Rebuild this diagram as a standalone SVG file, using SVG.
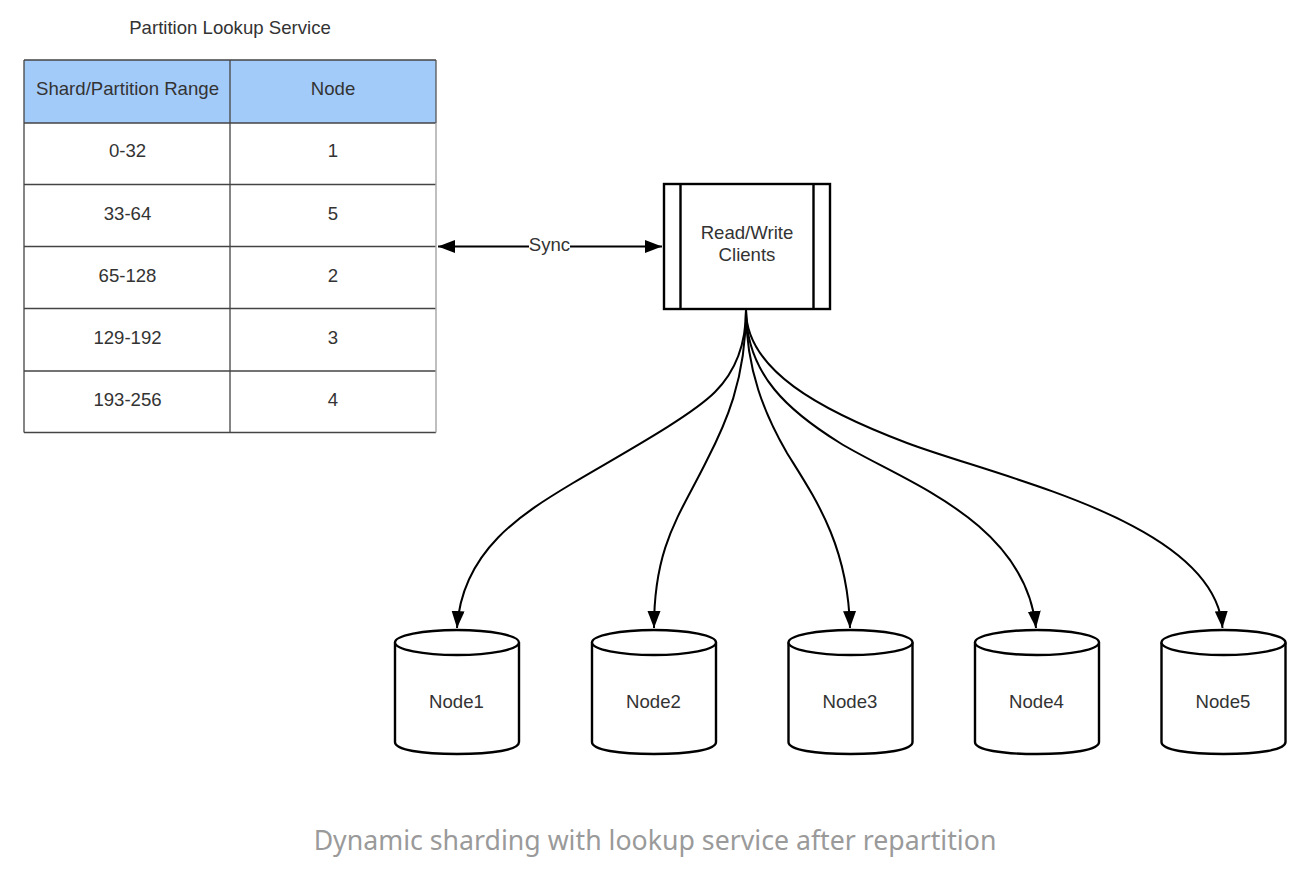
<svg xmlns="http://www.w3.org/2000/svg" width="1304" height="876" viewBox="0 0 1304 876">
<style>
text{font-family:"Liberation Sans",Arial,sans-serif;font-size:18.6px;fill:#333;text-anchor:middle}
.cap{font-family:"Noto Sans",sans-serif;font-size:26.7px;fill:#9a9a9a}
.g{stroke:#444;stroke-width:1.3;fill:none}
.s{stroke:#000;stroke-width:2.4;fill:#fff}
.c{stroke:#000;stroke-width:2;fill:none}
</style>
<defs>
<marker id="a" markerUnits="userSpaceOnUse" markerWidth="18" markerHeight="14" refX="17" refY="6.5" orient="auto-start-reverse"><path d="M0 0L17 6.5L0 13Z" fill="#000"/></marker>
<g id="cyl"><path class="s" d="M-62 12.500V112C-62 120-35 124 0 124S62 120 62 112V12.500"/><ellipse class="s" cx="0" cy="12.500" rx="62" ry="12.500"/></g>
</defs>
<g id="table">
<rect x="24" y="60" width="412" height="63" fill="#a3cbfa"/>
<path class="g" d="M24 60H436M24 123H436M24 184.500H436M24 246.500H436M24 308.500H436M24 371H436M24 432.500H436M24 60V432.500M230 60V432.500"/>
<path d="M436 123V432.500" stroke="#aaa" stroke-width="1.500"/><path d="M436 60V123" stroke="#555" stroke-width="1.300"/>
<text x="230" y="34">Partition Lookup Service</text>
<text x="127.500" y="95">Shard/Partition Range</text><text x="333" y="95">Node</text>
<text x="127.500" y="157">0-32</text><text x="333" y="157">1</text>
<text x="127.500" y="219.500">33-64</text><text x="333" y="219.500">5</text>
<text x="127.500" y="281.500">65-128</text><text x="333" y="281.500">2</text>
<text x="127.500" y="344">129-192</text><text x="333" y="344">3</text>
<text x="127.500" y="406">193-256</text><text x="333" y="406">4</text>
</g>
<g id="connectors">
<path class="c" marker-start="url(#a)" d="M438 246.500H529"/>
<path class="c" marker-end="url(#a)" d="M570 246.500H662"/>
<path class="c" marker-end="url(#a)" d="M746 310C746 345 735 372 715 392C690 417 620 455 573 483C523 513 462 550 457 628"/>
<path class="c" marker-end="url(#a)" d="M746 310C746 380 725 425 707 460C680 515 654 545 654 628"/>
<path class="c" marker-end="url(#a)" d="M746 310C746 370 765 415 787 453C815 498 848 545 850 628"/>
<path class="c" marker-end="url(#a)" d="M746 310C746 375 790 412 840 443C900 480 1025 520 1036 628"/>
<path class="c" marker-end="url(#a)" d="M746 310C746 370 820 410 907 443C1000 478 1215 522 1222.500 628"/>
</g>
<text x="549.500" y="251">Sync</text>
<g id="clients">
<rect class="s" x="664" y="184" width="166" height="125"/>
<path class="s" d="M680.500 184V309M813.500 184V309"/>
<text x="747" y="239">Read/Write</text><text x="747" y="261">Clients</text>
</g>
<g id="node1"><use href="#cyl" x="457" y="630"/><text x="456.500" y="708">Node1</text></g>
<g id="node2"><use href="#cyl" x="654" y="630"/><text x="653.500" y="708">Node2</text></g>
<g id="node3"><use href="#cyl" x="850.500" y="630"/><text x="850" y="708">Node3</text></g>
<g id="node4"><use href="#cyl" x="1037" y="630"/><text x="1036.500" y="708">Node4</text></g>
<g id="node5"><use href="#cyl" x="1223.500" y="630"/><text x="1223" y="708">Node5</text></g>
<text class="cap" x="655" y="850">Dynamic sharding with lookup service after repartition</text>
</svg>
